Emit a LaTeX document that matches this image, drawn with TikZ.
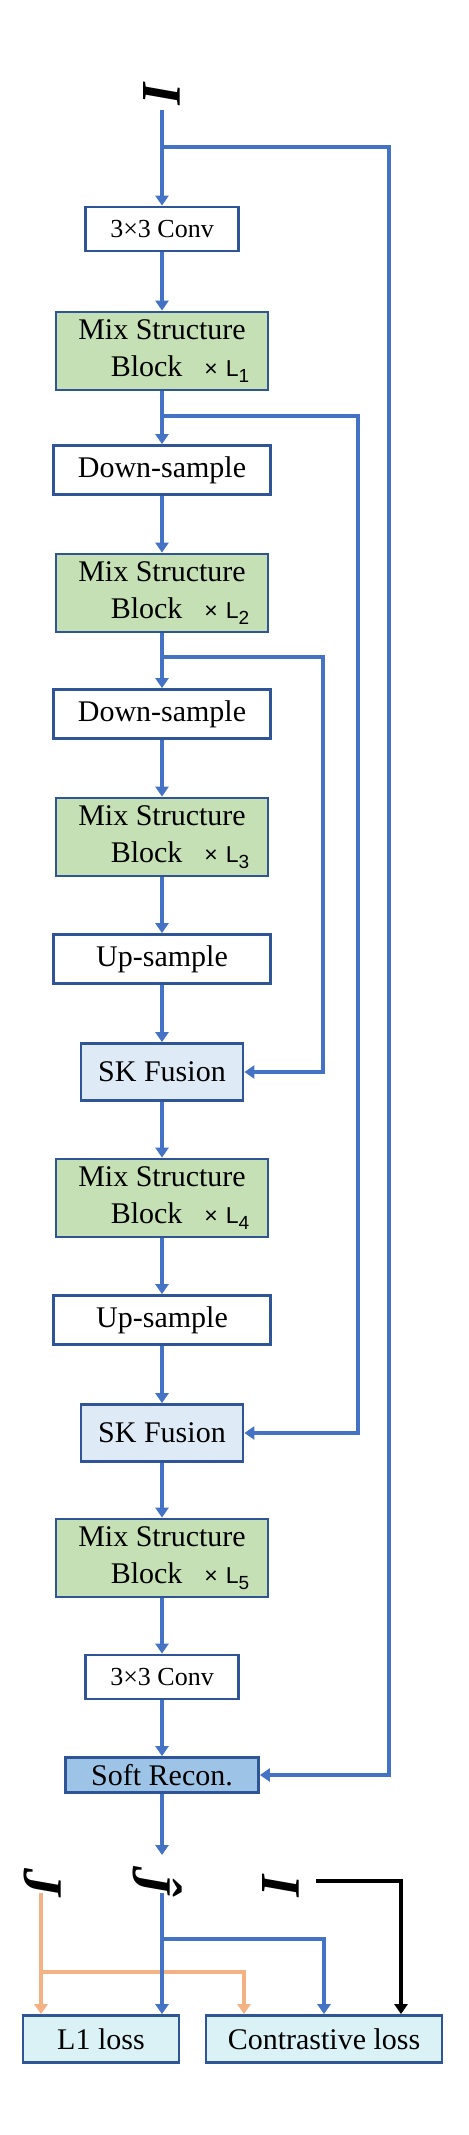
\documentclass[tikz,border=0pt]{standalone}
\usepackage{fontspec}
\setmainfont{Liberation Serif}
\newfontfamily\labfont{Liberation Sans}
\usetikzlibrary{arrows.meta}

\definecolor{lineblue}{HTML}{4472C4}
\definecolor{edgeblue}{HTML}{2F5597}
\definecolor{msbgreen}{HTML}{C5E0B4}
\definecolor{skblue}{HTML}{DEEBF7}
\definecolor{recblue}{HTML}{9DC3E6}
\definecolor{losscyan}{HTML}{DAF1F5}
\definecolor{lossorange}{HTML}{F4B183}

\newcommand{\timesL}[1]{{\labfont\fontsize{11.5}{12}\selectfont ×\hspace{4pt}L\raisebox{-3.3pt}{\fontsize{9.5}{10}\selectfont #1}}}
\newcommand{\msbtext}[1]{Mix Structure\\\hspace*{18pt}Block\hspace{11pt}\timesL{#1}}

\tikzset{
  plainbox/.style={draw=edgeblue, line width=1.4pt, fill=white, minimum width=108.5pt,
    minimum height=24.5pt, inner sep=0pt, font=\fontsize{15}{18.5}\selectfont},
  convbox/.style={plainbox, minimum width=76.5pt, minimum height=22pt, font=\fontsize{13}{15}\selectfont},
  msbbox/.style={plainbox, fill=msbgreen, minimum width=106pt, minimum height=39pt, align=center},
  skbox/.style={plainbox, fill=skblue, minimum width=81pt, minimum height=28.5pt},
  recbox/.style={plainbox, fill=recblue, minimum width=96.5pt, minimum height=17.5pt},
  lossbox/.style={plainbox, fill=losscyan, minimum height=23.5pt},
  sym/.style={rotate=-90, inner sep=0pt, font=\fontsize{28}{28}\selectfont\bfseries\itshape},
  flow/.style={draw=lineblue, line width=1.8pt, -{Triangle[length=5pt,width=6.5pt]}},
  orangeflow/.style={flow, draw=lossorange, line width=1.6pt},
  blackflow/.style={flow, draw=black},
}

\begin{document}
\begin{tikzpicture}[x=0.5pt,y=-0.5pt]
\useasboundingbox (0,0) rectangle (468,2135);

\node[sym] (itop) at (162,93) {I};
\node[convbox] (conv1) at (162,229) {3×3 Conv};
\node[msbbox] (msb1) at (162,351) {\msbtext{1}};
\node[plainbox] (down1) at (162,470) {Down-sample};
\node[msbbox] (msb2) at (162,593) {\msbtext{2}};
\node[plainbox] (down2) at (162,714) {Down-sample};
\node[msbbox] (msb3) at (162,837) {\msbtext{3}};
\node[plainbox] (up1) at (162,959) {Up-sample};
\node[skbox] (sk1) at (162,1072) {SK Fusion};
\node[msbbox] (msb4) at (162,1198) {\msbtext{4}};
\node[plainbox] (up2) at (162,1320) {Up-sample};
\node[skbox] (sk2) at (162,1433) {SK Fusion};
\node[msbbox] (msb5) at (162,1558) {\msbtext{5}};
\node[convbox] (conv2) at (162,1677) {3×3 Conv};
\node[recbox] (rec) at (162,1775) {Soft Recon.};
\node[sym] (jsym) at (43,1882) {J};
\node[sym] (jhat) at (158,1880) {\^{J}};
\node[sym] (isym) at (281,1885) {I};
\node[lossbox, minimum width=78pt] (l1) at (101,2039) {L1 loss};
\node[lossbox, minimum width=118pt] (cl) at (324,2039) {Contrastive loss};

\coordinate (s0) at (162,110);
\coordinate (b0) at (162,147);
\coordinate (r0) at (389,147);
\coordinate (b1) at (162,416);
\coordinate (r1) at (358,416);
\coordinate (b2) at (162,657);
\coordinate (r2) at (323,657);
\coordinate (jin) at (162,1855);
\coordinate (jo) at (162,1893);
\coordinate (jb) at (162,1939);
\coordinate (oa) at (41,1893);
\coordinate (ob) at (244,1972);
\coordinate (ia) at (316,1881);
\coordinate (ib) at (401,1881);

\draw[flow] (s0) -- (conv1);
\draw[flow] (b0) -- (r0) |- (rec.east);
\draw[flow] (conv1) -- (msb1);
\draw[flow] (msb1) -- (down1);
\draw[flow] (b1) -- (r1) |- (sk2.east);
\draw[flow] (down1) -- (msb2);
\draw[flow] (msb2) -- (down2);
\draw[flow] (b2) -- (r2) |- (sk1.east);
\draw[flow] (down2) -- (msb3);
\draw[flow] (msb3) -- (up1);
\draw[flow] (up1) -- (sk1);
\draw[flow] (sk1) -- (msb4);
\draw[flow] (msb4) -- (up2);
\draw[flow] (up2) -- (sk2);
\draw[flow] (sk2) -- (msb5);
\draw[flow] (msb5) -- (conv2);
\draw[flow] (conv2) -- (rec);
\draw[flow] (rec) -- (jin);

\draw[orangeflow] (oa) -- (oa |- l1.north);
\draw[orangeflow] (oa |- ob) -- (ob) -- (ob |- cl.north);
\draw[flow] (jo) -- (jo |- l1.north);
\draw[flow] (jb) -| (cl.north);
\draw[blackflow] (ia) -- (ib) -- (ib |- cl.north);
\end{tikzpicture}
\end{document}
